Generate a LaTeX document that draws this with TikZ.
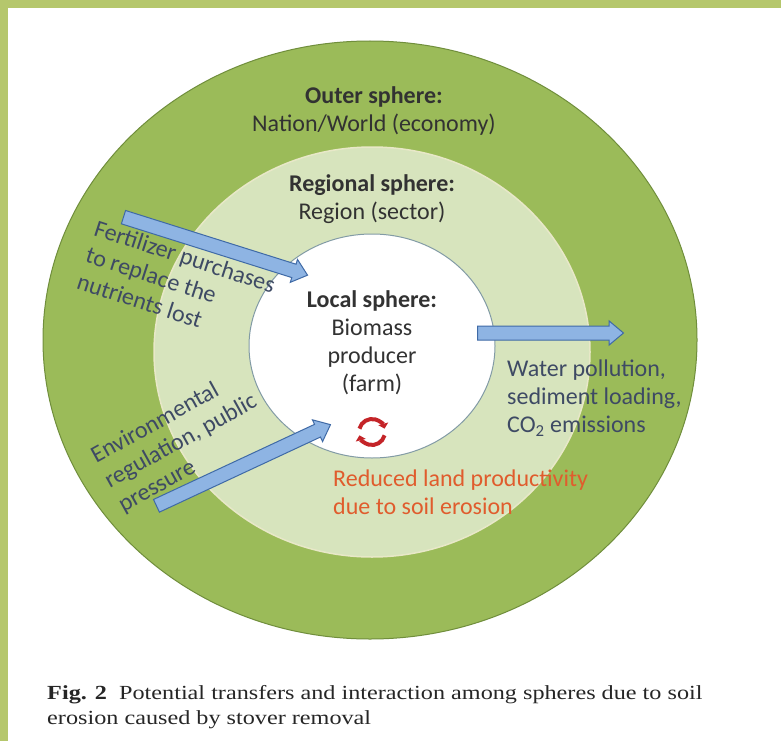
\documentclass[tikz,border=0pt]{standalone}
\usepackage{fontspec}
\setmainfont{Carlito}
\newfontfamily\capfont{Liberation Serif}
\usetikzlibrary{shapes.geometric,shapes.arrows,arrows.meta}

\definecolor{frameGreen}{RGB}{181,199,108}
\definecolor{outerGreen}{RGB}{155,187,89}
\definecolor{outerLine}{RGB}{112,142,60}
\definecolor{regionGreen}{RGB}{215,228,189}
\definecolor{regionLine}{RGB}{232,232,200}
\definecolor{innerLine}{RGB}{130,155,165}
\definecolor{arrowFill}{RGB}{142,180,227}
\definecolor{arrowLine}{RGB}{63,106,166}
\definecolor{labelGray}{RGB}{50,50,50}
\definecolor{flowText}{RGB}{62,74,100}
\definecolor{lossRed}{RGB}{224,92,45}
\definecolor{cycleRed}{RGB}{196,36,40}

\begin{document}
\begin{tikzpicture}[x=1pt,y=-1pt,
    sphere/.style={shape=ellipse,inner sep=0pt},
    spheretext/.style={align=center,text=labelGray,font=\fontsize{24}{28}\selectfont},
    flowtext/.style={align=left,inner sep=0pt,text=flowText,font=\fontsize{24}{28}\selectfont},
    bluearrow/.style={shape=single arrow,draw=arrowLine,fill=arrowFill,line width=1pt,
        inner sep=6.5pt,single arrow head extend=5pt,single arrow tip angle=80,anchor=tail}]
    \useasboundingbox (0,0) rectangle (781,741);
    \fill[white] (0,0) rectangle (781,741);
    \fill[frameGreen] (0,0) rectangle (781,8);
    \fill[frameGreen] (0,0) rectangle (8,741);

    % the three spheres
    \node[sphere,draw=outerLine,fill=outerGreen,line width=1pt,minimum width=654pt,minimum height=598pt] (outer) at (370,340) {};
    \node[sphere,draw=regionLine,fill=regionGreen,line width=1.5pt,minimum width=436pt,minimum height=410pt] (region) at (372,352) {};
    \node[sphere,draw=innerLine,fill=white,line width=1pt,minimum width=246pt,minimum height=224pt] (local) at (372,346) {};

    \node[spheretext] (outerlabel) at (374,111) {\textbf{Outer sphere:}\\Nation/World (economy)};
    \node[spheretext] (regionlabel) at (372,199) {\textbf{Regional sphere:}\\Region (sector)};
    \node[spheretext] (locallabel) at (372,343) {\textbf{Local sphere:}\\Biomass\\producer\\(farm)};

    % flows in and out
    \node[flowtext,anchor=north west,rotate=-18] (fertlabel) at (98,219) {Fertilizer purchases\\to replace the\\nutrients lost};
    \node[flowtext,anchor=north west,rotate=29] (envlabel) at (88,449) {Environmental\\regulation, public\\pressure};
    \node[flowtext,anchor=north west] (waterlabel) at (507,360) {Water pollution,\\sediment loading,\\CO\textsubscript{2} emissions};
    \node[flowtext,anchor=north west,text=lossRed] (losslabel) at (333,470) {Reduced land productivity\\due to soil erosion};

    \node[bluearrow,minimum height=193pt,rotate=-17.5] (fertarrow) at (123,217) {};
    \node[bluearrow,minimum height=192pt,rotate=25] (envarrow) at (156,506) {};
    \node[bluearrow,minimum height=146pt] (waterarrow) at (477,333) {};

    % soil loss cycle
    \coordinate (cycle) at (372,432);
    \draw[cycleRed,line width=4pt,-{Triangle[length=5pt,width=10pt]}] (cycle) ++(195:13) arc[start angle=195,end angle=345,radius=13];
    \draw[cycleRed,line width=4pt,-{Triangle[length=5pt,width=10pt]}] (cycle) ++(15:13) arc[start angle=15,end angle=165,radius=13];

    \node[anchor=north west,inner sep=0pt,align=left,xscale=1.21,text=black!85,font=\capfont\fontsize{20}{25}\selectfont] (caption) at (47,685)
        {\textbf{Fig. 2}\hspace{0.5em}Potential transfers and interaction among spheres due to soil\\erosion caused by stover removal};
\end{tikzpicture}
\end{document}
